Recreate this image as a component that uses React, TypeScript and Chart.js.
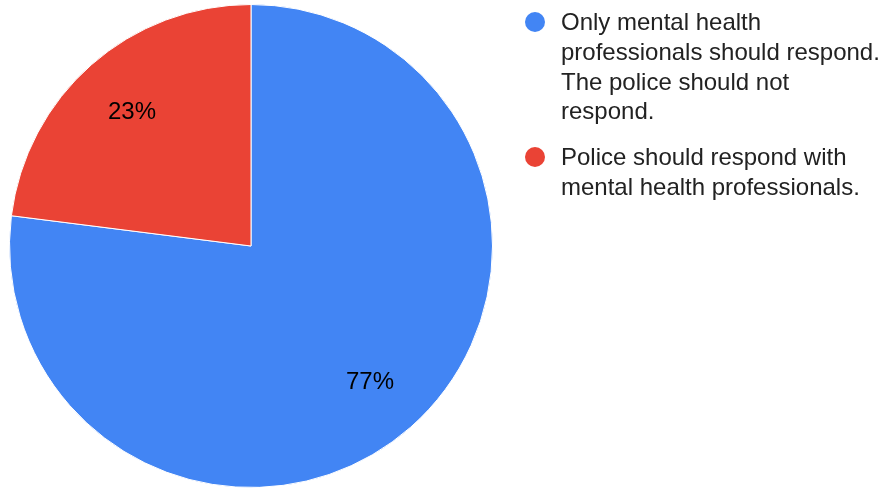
import React, { useEffect, useRef } from "react";
import { Chart, registerables } from "chart.js";

Chart.register(...registerables);

const categories = [
  "Only mental health professionals should respond. The police should not respond.",
  "Police should respond with mental health professionals.",
];
const legendLines = [
  ["Only mental health", "professionals should respond.", "The police should not", "respond."],
  ["Police should respond with", "mental health professionals."],
];
const values = [77, 23];
const colors = ["#4285F4", "#EA4335"];

const FONT = '"Liberation Sans", Arial, sans-serif';

const pctLabels = {
  id: "pctLabels",
  afterDatasetsDraw(chart: any) {
    const ctx = chart.ctx;
    const meta = chart.getDatasetMeta(0);
    const data = chart.data.datasets[0].data as number[];
    const total = data.reduce((a, b) => a + b, 0);
    ctx.save();
    ctx.font = `24px ${FONT}`;
    ctx.fillStyle = "#000000";
    ctx.textAlign = "center";
    ctx.textBaseline = "middle";
    meta.data.forEach((el: any, i: number) => {
      const p = el.getProps(["x", "y", "startAngle", "endAngle", "outerRadius"], true);
      const mid = (p.startAngle + p.endAngle) / 2;
      const r = p.outerRadius * 0.745;
      const x = p.x + Math.cos(mid) * r;
      const y = p.y + Math.sin(mid) * r + 1;
      ctx.fillText(Math.round((data[i] / total) * 100) + "%", x, y);
    });
    ctx.restore();
  },
};

export default function App() {
  const ref = useRef<HTMLCanvasElement>(null);
  useEffect(() => {
    document.body.style.margin = "0";
    const chart = new Chart(ref.current!, {
      type: "pie",
      data: {
        labels: categories,
        datasets: [
          {
            data: values,
            backgroundColor: colors,
            borderColor: "#ffffff",
            borderWidth: 1,
          },
        ],
      },
      options: {
        animation: false,
        responsive: false,
        layout: { padding: { left: 9, right: 396, top: 4, bottom: 0 } },
        plugins: {
          legend: { display: false },
          tooltip: { enabled: false },
        },
      },
      plugins: [pctLabels],
    });
    return () => chart.destroy();
  }, []);

  const tops = [7.4, 142.4];
  return (
    <div style={{ position: "fixed", left: 0, top: 0, width: 889, height: 488, background: "#fff" }}>
      <canvas ref={ref} width={889} height={488} style={{ position: "absolute", left: 0, top: 0 }} />
      {legendLines.map((lines, i) => (
        <div key={i}>
          <div
            style={{
              position: "absolute",
              left: 525,
              top: tops[i] + 4.5,
              width: 20,
              height: 20,
              borderRadius: "50%",
              background: colors[i],
            }}
          />
          <div
            style={{
              position: "absolute",
              left: 561,
              top: tops[i],
              font: `24px ${FONT}`,
              lineHeight: "29.6px",
              color: "#222222",
              whiteSpace: "nowrap",
            }}
          >
            {lines.map((l, j) => (
              <div key={j}>{l}</div>
            ))}
          </div>
        </div>
      ))}
    </div>
  );
}
